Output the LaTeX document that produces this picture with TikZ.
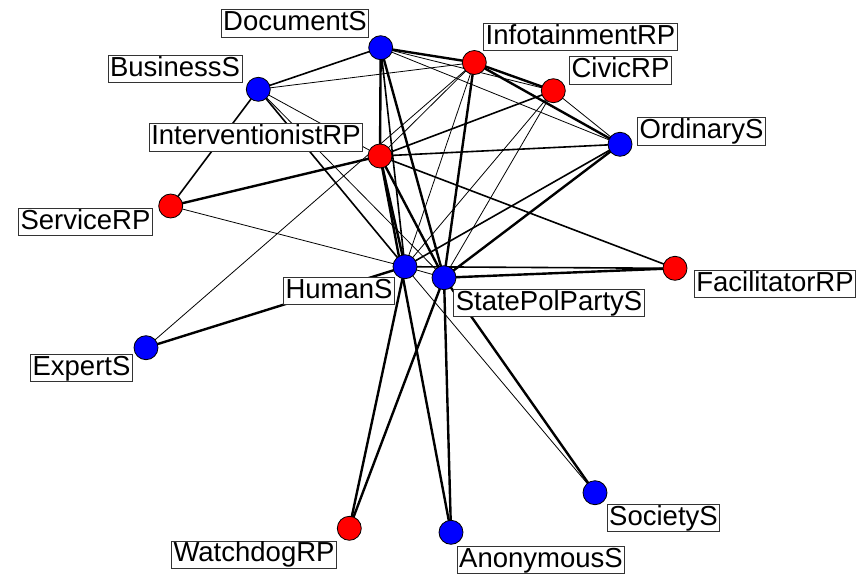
\documentclass[tikz,border=0pt]{standalone}
\usepackage{fontspec}
\setmainfont{Liberation Sans}
\begin{document}
\begin{tikzpicture}[x=1pt,y=-1pt,
  vtx/.style={circle,draw=black,line width=0.8pt,minimum size=24pt,inner sep=0pt},
  rp/.style={vtx,fill=red},
  ss/.style={vtx,fill=blue},
  lab/.style={draw=black!80,line width=0.9pt,fill=white,inner xsep=2pt,inner ysep=0.8pt,
    text height=20pt,text depth=5.5pt,font=\fontsize{27.5}{30}\selectfont},
  thk/.style={line width=2.4pt},
  med/.style={line width=1.6pt},
  thn/.style={line width=0.8pt}]
\useasboundingbox (0,0) rectangle (862,575);
% vertices (positions only, drawn later)
\coordinate (D) at (380.7,47.7);
\coordinate (I) at (474.3,62.5);
\coordinate (B) at (258.3,89.3);
\coordinate (C) at (553.3,90.7);
\coordinate (O) at (620,144.3);
\coordinate (V) at (380,156);
\coordinate (S) at (170.7,206);
\coordinate (H) at (405,266.7);
\coordinate (P) at (444,277.7);
\coordinate (F) at (675,268.3);
\coordinate (E) at (146,347.7);
\coordinate (So) at (595,492.7);
\coordinate (W) at (349.3,528.3);
\coordinate (A) at (451,532.3);
% edges
\draw[thk] (D) -- (V);
\draw[thk] (D) -- (P);
\draw[thk] (D) -- (I);
\draw[thk] (V) -- (S);
\draw[thk] (I) -- (C);
\draw[thk] (I) -- (O);
\draw[thk] (P) -- (F);
\draw[thk] (E) -- (H);
\draw[thk] (So) -- (P);
\draw[thk] (P) -- (A);
\draw[thk] (V) -- (A);
\draw[thk] (V) -- (P);
\draw[thk] (V) -- (H);
\draw[thk] (I) -- (P);
\draw[thk] (W) -- (P);
\draw[thk] (W) -- (H);
\draw[thk] (O) -- (P);
\draw[med] (D) -- (B);
\draw[med] (B) -- (S);
\draw[med] (H) -- (F);
\draw[med] (O) -- (H);
\draw[med] (V) -- (F);
\draw[med] (D) -- (H);
\draw[med] (B) -- (H);
\draw[med] (V) -- (C);
\draw[med] (V) -- (O);
\draw[thn] (B) -- (I);
\draw[thn] (B) -- (V);
\draw[thn] (B) -- (P);
\draw[thn] (D) -- (C);
\draw[thn] (D) -- (O);
\draw[thn] (C) -- (O);
\draw[thn] (C) -- (H);
\draw[thn] (C) -- (P);
\draw[thn] (I) -- (V);
\draw[thn] (I) -- (H);
\draw[thn] (E) -- (I);
\draw[thn] (S) -- (H);
\draw[thn] (H) -- (So);
\draw[thn] (H) -- (P);
% vertex discs
\node[ss] (nD) at (D) {};
\node[rp] (nI) at (I) {};
\node[ss] (nB) at (B) {};
\node[rp] (nC) at (C) {};
\node[ss] (nO) at (O) {};
\node[rp] (nV) at (V) {};
\node[rp] (nS) at (S) {};
\node[ss] (nH) at (H) {};
\node[ss] (nP) at (P) {};
\node[rp] (nF) at (F) {};
\node[ss] (nE) at (E) {};
\node[ss] (nSo) at (So) {};
\node[rp] (nW) at (W) {};
\node[ss] (nA) at (A) {};
% labels
\node[lab] (lD) at (295,23.5) {DocumentS};
\node[lab] (lI) at (580.5,37) {InfotainmentRP};
\node[lab] (lC) at (620.5,70.5) {CivicRP};
\node[lab] (lO) at (701.5,131.5) {OrdinaryS};
\node[lab] (lB) at (175,69) {BusinessS};
\node[lab] (lV) at (256,137.5) {InterventionistRP};
\node[lab] (lS) at (85.5,222) {ServiceRP};
\node[lab] (lH) at (339,291) {HumanS};
\node[lab] (lP) at (549,303) {StatePolPartyS};
\node[lab] (lF) at (775,284) {FacilitatorRP};
\node[lab] (lE) at (81.5,368) {ExpertS};
\node[lab] (lSo) at (663.5,518) {SocietyS};
\node[lab] (lW) at (254,554.5) {WatchdogRP};
\node[lab] (lA) at (541,560) {AnonymousS};
\end{tikzpicture}
\end{document}
